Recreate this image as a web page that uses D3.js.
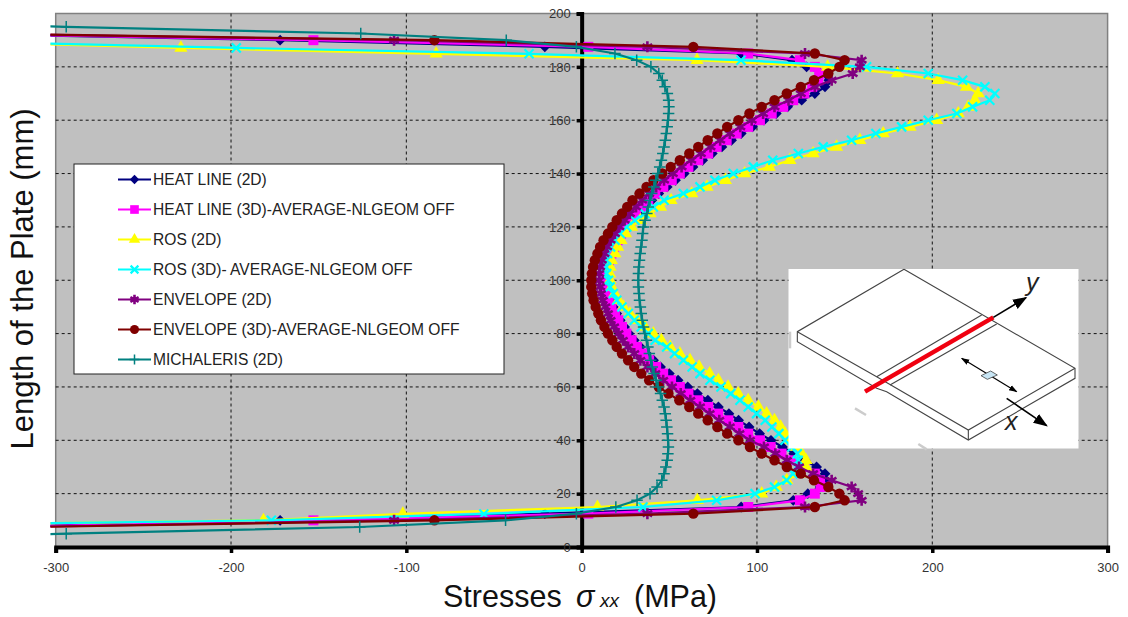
<!DOCTYPE html>
<html>
<head>
<meta charset="utf-8">
<script src="https://cdn.jsdelivr.net/npm/d3@7"></script>
<style>
  body { margin: 0; background: #fff; }
  text { font-family: "Liberation Sans", Arial, sans-serif; }
</style>
</head>
<body>
<div id="chart"></div>
<script>
// length along the plate (mm), shared by heat line and envelope curves
const lengths = [6.3, 10, 12.5,
  15, 17.5, 20, 22.5, 25, 27.5, 30, 32.5, 35, 37.5,
  40, 42.5, 45, 47.5, 50, 52.5, 55, 57.5, 60, 62.5,
  65, 67.5, 70, 72.5, 75, 77.5, 80, 82.5, 85, 87.5,
  90, 92.5, 95, 97.5, 100, 102.5, 105, 107.5, 110, 112.5,
  115, 117.5, 120, 122.5, 125, 127.5, 130, 132.5, 135, 137.5,
  140, 142.5, 145, 147.5, 150, 152.5, 155, 157.5, 160, 162.5,
  165, 167.5, 170, 172.5, 175, 177.5, 180,
  182.5, 185, 187.5, 190, 193.2];

// the ROS curves run a little lower at the top edge
const rosLengths = [8, 10, 12.4,
  15, 17.5, 20, 22.5, 25, 27.5, 30, 32.5, 35, 37.5,
  40, 42.5, 45, 47.5, 50, 52.5, 55, 57.5, 60, 62.5,
  65, 67.5, 70, 72.5, 75, 77.5, 80, 82.5, 85, 87.5,
  90, 92.5, 95, 97.5, 100, 102.5, 105, 107.5, 110, 112.5,
  115, 117.5, 120, 122.5, 125, 127.5, 130, 132.5, 135, 137.5,
  140, 142.5, 145, 147.5, 150, 152.5, 155, 157.5, 160, 162.5,
  165, 167.5, 170, 172.5, 175, 177.5, 180,
  182.5, 184.9, 187.1, 190.5];

const michalerisLengths = [3, 5, 7.5, 10, 12.5,
  15, 17.5, 20, 22.5, 25, 27.5, 30, 32.5, 35, 37.5,
  40, 42.5, 45, 47.5, 50, 52.5, 55, 57.5, 60, 62.5,
  65, 67.5, 70, 72.5, 75, 77.5, 80, 82.5, 85, 87.5,
  90, 92.5, 95, 97.5, 100, 102.5, 105, 107.5, 110, 112.5,
  115, 117.5, 120, 122.5, 125, 127.5, 130, 132.5, 135, 137.5,
  140, 142.5, 145, 147.5, 150, 152.5, 155, 157.5, 160, 162.5,
  165, 167.5, 170, 172.5, 175, 177.5, 180,
  182.5, 185, 187.5, 190, 192.5, 195, 197];

// stresses (MPa)
const heatLine2d = [-420, -172, -21,
  91, 120.7, 129, 136, 139.5, 138.8, 134, 127.5, 121, 114.5,
  108, 101.5, 95.5, 89.5, 84, 78, 72, 66, 60.5, 55,
  50, 45, 41, 37, 33.5, 30, 27, 24.5, 22, 20,
  18, 16.5, 15.5, 14.5, 14, 14, 15, 16, 17.5, 19,
  21, 23.5, 26, 29, 32, 36, 40, 44, 48.8, 53.5,
  58.5, 63.5, 69, 74.5, 80, 85.5, 91, 97.5, 104, 111,
  117.5, 125.5, 133, 138.8, 141, 136, 128.3,
  120, 91, -21, -172, -420];

const heatLine3d = [-420, -153, 3.8,
  95, 124.5, 133, 136.3, 136, 133, 127, 120.7, 114, 107.8,
  101.7, 95, 89.4, 83.7, 77.9, 72.2, 66.5, 60.9, 56, 51,
  46.5, 42.5, 38.5, 35, 31.5, 28.5, 25.5, 23, 21, 19,
  17, 15.5, 14.5, 13.8, 13.5, 14, 14.5, 15.5, 17, 18.5,
  20.5, 22.5, 25, 28, 31, 34.5, 38, 42, 46.6, 51.4,
  56, 60.9, 66.5, 72.2, 77, 82.7, 88.4, 95, 101.7, 108.4,
  115, 120.7, 127, 131.5, 135, 135.5, 133,
  124.5, 95, 3.8, -153, -420];

const ros2d = [-420, -181.5, -102,
  9, 66, 102.7, 111, 117, 124, 128, 128, 125.5, 122.5,
  119.5, 116, 113.5, 110, 105.5, 100.8, 95, 89.3, 83.5, 78,
  73, 67, 61.8, 56, 50.5, 45.5, 40.9, 36, 31.5, 27.5,
  23.8, 21, 18.8, 17.2, 16.2, 16, 16.2, 17, 19, 20.5,
  22.5, 25, 28.5, 33.5, 39, 45, 51, 62.8, 71.5, 82,
  93, 107, 118.8, 132, 145.4, 158.7, 172, 187.3, 202.5, 214.8,
  220.5, 224.3, 226.2, 219.5, 203.4, 180.2, 140.3,
  65.8, -83, -228.6, -420];

const ros3d = [-420, -177, -55.8,
  35, 77, 98.9, 110, 117, 120.5, 122.6, 123.5, 123, 120,
  116, 112.5, 108.5, 104.7, 99.8, 95, 90.3, 85, 79.5, 73.2,
  67.5, 63, 58, 53, 48.5, 41.9, 38, 34, 30, 26.6,
  23, 20, 18, 16.2, 15.3, 14.3, 14, 14.3, 14.8, 16.5,
  19, 22, 25.7, 30.4, 36, 40.9, 47, 58, 67.5, 76,
  86.5, 97.9, 109, 123.6, 137.8, 154, 167.8, 182.5, 197.7, 214,
  223, 232.8, 235.7, 230, 217.3, 197.7, 162.5,
  90.9, -30, -197, -420];

const envelope2d = [-420, -107, 37.5,
  127.4, 159.7, 157.7, 154, 142.6, 132, 124, 117, 110.5, 104,
  96, 90, 84.5, 78.5, 73, 67.5, 62, 56.5, 51.5, 46.5,
  42, 37.5, 33.5, 30, 26.5, 23.5, 21, 18.5, 16.5, 15,
  13.5, 12, 11, 10.5, 10, 10, 10.5, 11.5, 13, 14.5,
  16.5, 19, 21.5, 24.5, 27.5, 31, 34.5, 38.5, 42.5, 47,
  52, 57, 62.5, 68, 73.5, 79, 84.5, 90.5, 97, 103.5,
  110, 118, 125, 133, 142.6, 154.6, 158.7,
  159.7, 127.4, 37.5, -107, -420];

const envelope3d = [-420, -84, 63.7,
  133, 150, 147, 140.7, 132.5, 125, 117, 110, 102.7, 96,
  89.4, 83, 77.4, 71.9, 66.5, 61.4, 55.7, 49.5, 44, 38.5,
  34, 30, 26.5, 23, 20, 17.5, 15, 13, 11, 9.5,
  8, 6.8, 6, 5.5, 5.5, 5.8, 6.5, 7.5, 9, 10.5,
  12.5, 15, 17.5, 20, 23, 26, 29, 33, 37, 41,
  46, 50.8, 56, 61.4, 66.5, 71.9, 77.4, 83, 89.4, 95.7,
  102.7, 110, 117, 125, 132.5, 140.7, 147,
  150, 133, 63.7, -84, -420];

const michaleris2d = [-420, -294, -126.6, -43.4, -3,
  19.5, 31.6, 39, 43, 45.7, 47, 48, 48.8, 49.2, 49.5,
  49.3, 49, 48.6, 48.2, 47.7, 47, 46, 45, 43.6, 42.5,
  41.3, 40.3, 39.4, 38.6, 37.8, 37, 36, 35.3, 34.6, 34,
  33.5, 33, 32.7, 32.4, 32.3, 32.4, 32.6, 33, 33.4, 33.9,
  34.4, 34.8, 35.2, 36.2, 37.2, 38, 39, 40, 41.2, 42.3,
  43.4, 44.5, 45.5, 46.3, 47, 47.7, 48.3, 48.8, 49.3, 49.6,
  49.8, 49.6, 48.9, 47.5, 46, 44, 39.5,
  31.4, 19, -3, -43, -126, -294, -420];

const xTicks = [-300, -200, -100, 0, 100, 200, 300];
const yTicks = [0, 20, 40, 60, 80, 100, 120, 140, 160, 180, 200];

const series = [
  { name: "HEAT LINE (2D)", color: "#000080", symbol: d3.symbolDiamond2, size: 75, stress: heatLine2d, len: lengths },
  { name: "HEAT LINE (3D)-AVERAGE-NLGEOM OFF", color: "#ff00ff", symbol: d3.symbolSquare, size: 100, stress: heatLine3d, len: lengths },
  { name: "ROS (2D)", color: "#ffff00", symbol: d3.symbolTriangle, size: 75, stress: ros2d, len: rosLengths },
  { name: "ROS (3D)- AVERAGE-NLGEOM OFF", color: "#00ffff", symbol: d3.symbolTimes, size: 55, sw: 2.2, stress: ros3d, len: rosLengths },
  { name: "ENVELOPE (2D)", color: "#800080", symbol: d3.symbolAsterisk, size: 85, sw: 2.6, stress: envelope2d, len: lengths },
  { name: "ENVELOPE (3D)-AVERAGE-NLGEOM OFF", color: "#800000", symbol: d3.symbolCircle, size: 85, stress: envelope3d, len: lengths },
  { name: "MICHALERIS (2D)", color: "#008080", symbol: d3.symbolPlus, size: 45, sw: 1.5, stress: michaleris2d, len: michalerisLengths }
];

const width = 1128, height = 617;

const x = d3.scaleLinear().domain([-300, 300]).range([55.7, 1107.6]);
const y = d3.scaleLinear().domain([0, 200]).range([547, 13.5]);

const svg = d3.select("#chart").append("svg")
  .attr("width", width)
  .attr("height", height)
  .style("display", "block");

// plot area
svg.append("rect")
  .attr("x", x(-300)).attr("y", y(200))
  .attr("width", x(300) - x(-300)).attr("height", y(0) - y(200))
  .attr("fill", "#c0c0c0")
  .attr("stroke", "#808080")
  .attr("stroke-width", 1.5);

const defs = svg.append("defs");
defs.append("clipPath").attr("id", "plot-clip")
  .append("rect")
  .attr("x", x(-303)).attr("y", 0)
  .attr("width", width).attr("height", height);

// grid
svg.append("g").selectAll("line")
  .data(xTicks.filter(d => d > -300 && d !== 0 && d < 300))
  .enter().append("line")
  .attr("x1", d => x(d)).attr("x2", d => x(d))
  .attr("y1", y(200)).attr("y2", y(0))
  .attr("stroke", "#111").attr("stroke-dasharray", "3,3");

svg.append("g").selectAll("line")
  .data(yTicks.filter(d => d > 0 && d < 200))
  .enter().append("line")
  .attr("x1", x(-300)).attr("x2", x(300))
  .attr("y1", d => y(d)).attr("y2", d => y(d))
  .attr("stroke", "#111").attr("stroke-dasharray", "3,3");

// axes cross at zero
const plainTick = d => String(d);
const xAxis = d3.axisBottom(x).tickValues(xTicks).tickFormat(plainTick).tickSize(6).tickPadding(10);
const yAxis = d3.axisLeft(y).tickValues(yTicks).tickFormat(plainTick).tickSize(5).tickPadding(6);

const gx = svg.append("g").attr("transform", `translate(0,${y(0)})`).call(xAxis);
const gy = svg.append("g").attr("transform", `translate(${x(0)},0)`).call(yAxis);

[gx, gy].forEach(g => {
  g.select(".domain").attr("stroke", "#000").attr("stroke-width", 4);
  g.selectAll(".tick line").attr("stroke", "#000").attr("stroke-width", 3.5);
  g.selectAll(".tick text")
    .attr("font-family", '"Liberation Sans", Arial, sans-serif')
    .attr("font-size", 13)
    .attr("fill", "#333");
});

// curves
const curve = d3.line().x(d => x(d[0])).y(d => y(d[1]));
const plot = svg.append("g").attr("clip-path", "url(#plot-clip)");

function drawMarker(sel, s, scale = 1) {
  sel.attr("d", d3.symbol().type(s.symbol).size(s.size * scale)())
    .attr("fill", s.sw ? "none" : s.color)
    .attr("stroke", s.sw ? s.color : "none")
    .attr("stroke-width", s.sw || 0);
}

series.forEach(s => {
  const pts = s.stress.map((v, i) => [v, s.len[i]]);
  const g = plot.append("g");
  g.append("path")
    .attr("d", curve(pts))
    .attr("fill", "none")
    .attr("stroke", s.color)
    .attr("stroke-width", 2.2);
  g.selectAll("path.mark")
    .data(pts)
    .enter().append("path")
    .attr("class", "mark")
    .attr("transform", d => `translate(${x(d[0])},${y(d[1])})`)
    .call(drawMarker, s);
});

// legend
const legend = svg.append("g");
legend.append("rect")
  .attr("x", 74).attr("y", 164)
  .attr("width", 430).attr("height", 210)
  .attr("fill", "#fff")
  .attr("stroke", "#222")
  .attr("stroke-width", 1);

const rowY = d3.scalePoint().domain(series.map(d => d.name)).range([179.5, 359.5]);
const keys = legend.selectAll(".key")
  .data(series)
  .enter().append("g")
  .attr("class", "key")
  .attr("transform", d => `translate(0,${rowY(d.name)})`);

keys.append("line")
  .attr("x1", 118).attr("x2", 151)
  .attr("stroke", d => d.color)
  .attr("stroke-width", 2);

keys.each(function(d) {
  d3.select(this).append("path")
    .attr("transform", "translate(134.5,0)")
    .call(drawMarker, d, 0.75);
});

keys.append("text")
  .attr("x", 153)
  .attr("dy", "0.35em")
  .attr("font-size", 15.6)
  .attr("fill", "#222")
  .text(d => d.name);

// axis titles
const xTitle = svg.append("text")
  .attr("y", 607)
  .attr("font-size", 30.5)
  .attr("fill", "#111");
xTitle.append("tspan").attr("x", 443).text("Stresses");
xTitle.append("tspan").attr("x", 576).attr("font-style", "italic").text("σ");
xTitle.append("tspan").attr("x", 600).attr("font-style", "italic").attr("font-size", 19).text("xx");
xTitle.append("tspan").attr("x", 634).text("(MPa)");

svg.append("text")
  .attr("transform", "translate(33,279) rotate(-90)")
  .attr("text-anchor", "middle")
  .attr("font-size", 31)
  .attr("fill", "#111")
  .text("Length of the Plate (mm)");

// plate sketch, over the curves
const sketchGrey = [
  [[372, 28], [52, 215], [52, 245], [290, 385], [320, 395], [565, 540], [885, 355], [885, 325], [372, 28]],
  [[52, 215], [290, 350], [565, 510], [885, 325]],
  [[565, 510], [565, 540]],
  [[605, 165], [290, 350]],
  [[650, 192], [330, 375]]
];
const sketchSmudges = [
  [[30, 215], [30, 265]],
  [[225, 445], [258, 465]],
  [[415, 552], [440, 568]]
];
const sketchX = d3.scaleLinear().domain([0, 930]).range([780, 1090]);
const sketchY = d3.scaleLinear().domain([0, 600]).range([260, 460]);
const sketchLine = d3.line().x(d => sketchX(d[0])).y(d => sketchY(d[1]));

const sketch = svg.append("g");
sketch.append("rect")
  .attr("x", 788.5).attr("y", 269)
  .attr("width", 290).attr("height", 179.5)
  .attr("fill", "#fff");

sketch.selectAll("path.smudge")
  .data(sketchSmudges)
  .enter().append("path")
  .attr("class", "smudge")
  .attr("d", sketchLine)
  .attr("stroke", "#ccc")
  .attr("stroke-width", 2.5);

sketch.selectAll("path.edge")
  .data(sketchGrey)
  .enter().append("path")
  .attr("class", "edge")
  .attr("d", sketchLine)
  .attr("fill", "none")
  .attr("stroke", "#444")
  .attr("stroke-width", 1.1);

sketch.append("path")
  .attr("d", sketchLine([[255, 395], [640, 172]]))
  .attr("stroke", "#f00010")
  .attr("stroke-width", 4.5);

defs.append("marker")
  .attr("id", "head").attr("viewBox", "0 0 10 10")
  .attr("refX", 9).attr("refY", 5)
  .attr("markerWidth", 7).attr("markerHeight", 7)
  .attr("orient", "auto-start-reverse")
  .append("path").attr("d", "M0,1.5L10,5L0,8.5Z").attr("fill", "#000");
defs.append("marker")
  .attr("id", "head-big").attr("viewBox", "0 0 10 10")
  .attr("refX", 9).attr("refY", 5)
  .attr("markerWidth", 9).attr("markerHeight", 9)
  .attr("orient", "auto")
  .append("path").attr("d", "M0,1.3L10,5L0,8.7Z").attr("fill", "#000");

sketch.append("path")
  .attr("d", sketchLine([[545, 295], [710, 395]]))
  .attr("stroke", "#000").attr("stroke-width", 1.2)
  .attr("marker-start", "url(#head)").attr("marker-end", "url(#head)");
sketch.append("path")
  .attr("d", sketchLine([[640, 172], [738, 113]]))
  .attr("stroke", "#000").attr("stroke-width", 1.6)
  .attr("marker-end", "url(#head-big)");
sketch.append("path")
  .attr("d", sketchLine([[680, 415], [800, 497]]))
  .attr("stroke", "#000").attr("stroke-width", 1.6)
  .attr("marker-end", "url(#head-big)");
sketch.append("path")
  .attr("d", sketchLine([[603, 347], [632, 333], [652, 345], [622, 358]]) + "Z")
  .attr("fill", "#c8e6f5").attr("stroke", "#444").attr("stroke-width", 0.8);

sketch.append("text")
  .attr("x", 1026).attr("y", 291)
  .attr("font-family", '"Liberation Serif", serif')
  .attr("font-style", "italic").attr("font-size", 25).attr("fill", "#222")
  .text("y");
sketch.append("text")
  .attr("x", 1005).attr("y", 430)
  .attr("font-family", '"Liberation Serif", serif')
  .attr("font-style", "italic").attr("font-size", 25).attr("fill", "#222")
  .text("x");
</script>
</body>
</html>
